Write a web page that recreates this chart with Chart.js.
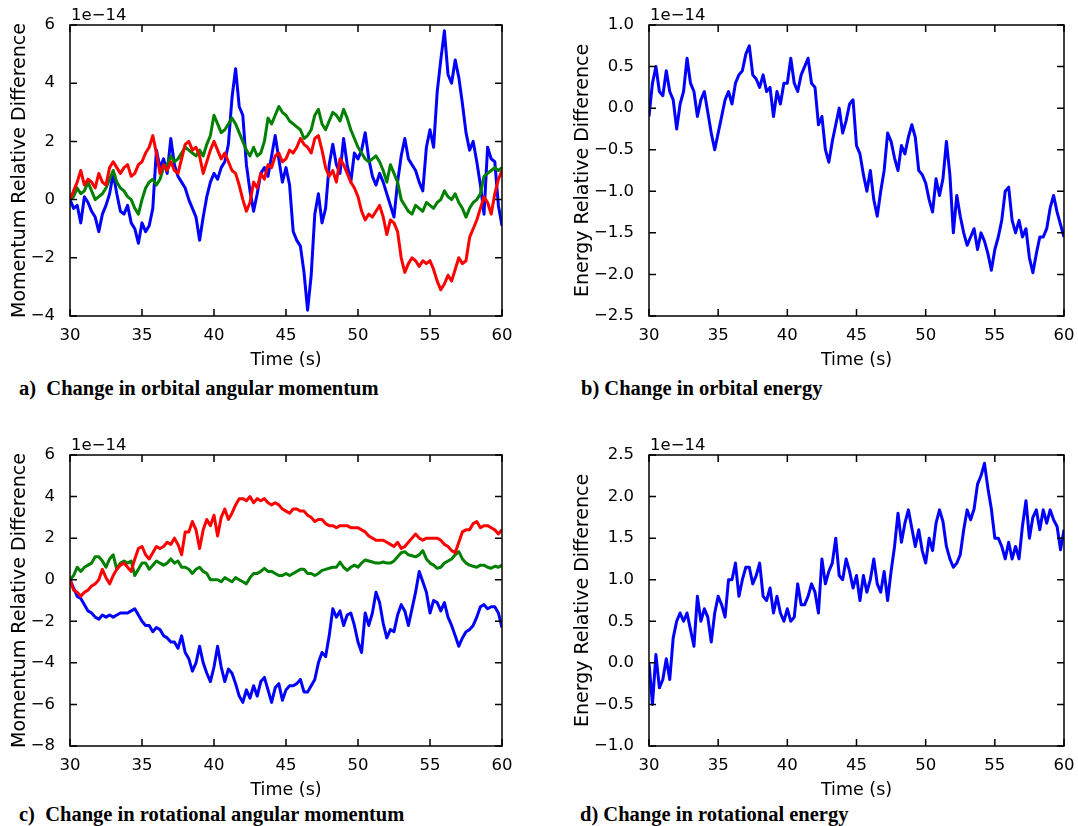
<!DOCTYPE html>
<html>
<head>
<meta charset="UTF-8">
<title>Relative differences of momentum and energy</title>
<style>
  body { margin: 0; background: #fff; width: 1078px; height: 826px; position: relative; overflow: hidden; }
  canvas { position: absolute; }
  .cap {
    position: absolute;
    font-family: "Liberation Serif", "Times New Roman", serif;
    font-weight: bold;
    font-size: 20.5px;
    line-height: 1;
    white-space: pre;
    color: #000;
  }
</style>
</head>
<body>
<canvas id="chartA" width="540" height="372" style="left:0;top:0"></canvas>
<canvas id="chartB" width="538" height="372" style="left:540px;top:0"></canvas>
<canvas id="chartC" width="540" height="372" style="left:0;top:430px"></canvas>
<canvas id="chartD" width="538" height="372" style="left:540px;top:430px"></canvas>

<div class="cap" style="left:19px;top:378px">a)  Change in orbital angular momentum</div>
<div class="cap" style="left:581px;top:378px">b) Change in orbital energy</div>
<div class="cap" style="left:19px;top:804px">c)  Change in rotational angular momentum</div>
<div class="cap" style="left:580px;top:804px">d) Change in rotational energy</div>

<script src="https://cdn.jsdelivr.net/npm/chart.js"></script>
<script>
// time samples (s)
const TIME = [
  30, 30.25, 30.5, 30.75, 31, 31.25, 31.5, 31.75, 32, 32.25, 32.5, 32.75, 33, 33.25, 33.5, 33.75, 34, 34.25, 34.5, 34.75,
  35, 35.25, 35.5, 35.75, 36, 36.25, 36.5, 36.75, 37, 37.25, 37.5, 37.75, 38, 38.25, 38.5, 38.75, 39, 39.25, 39.5, 39.75,
  40, 40.25, 40.5, 40.75, 41, 41.25, 41.5, 41.75, 42, 42.25, 42.5, 42.75, 43, 43.25, 43.5, 43.75, 44, 44.25, 44.5, 44.75,
  45, 45.25, 45.5, 45.75, 46, 46.25, 46.5, 46.75, 47, 47.25, 47.5, 47.75, 48, 48.25, 48.5, 48.75, 49, 49.25, 49.5, 49.75,
  50, 50.25, 50.5, 50.75, 51, 51.25, 51.5, 51.75, 52, 52.25, 52.5, 52.75, 53, 53.25, 53.5, 53.75, 54, 54.25, 54.5, 54.75,
  55, 55.25, 55.5, 55.75, 56, 56.25, 56.5, 56.75, 57, 57.25, 57.5, 57.75, 58, 58.25, 58.5, 58.75, 59, 59.25, 59.5, 59.75,
  60
];

// a) orbital angular momentum, relative difference (x 1e-14)
const ORB_MOM_X = [
  0.0, -0.3, -0.2, -0.8, 0.1, -0.1, -0.4, -0.6, -1.1, -0.5, -0.2, 0.2, 0.9, 0.2, -0.4, -0.5, -0.2, -0.8, -1.0, -1.5,
  -0.8, -1.1, -0.9, -0.3, 1.7, 1.1, 1.4, 0.9, 2.1, 1.2, 0.8, 0.6, 0.4, 0.0, -0.3, -0.6, -1.4, -0.6, 0.1, 0.6,
  0.9, 0.7, 1.1, 1.3, 1.9, 3.5, 4.5, 3.2, 2.9, 1.2, 0.3, -0.4, 0.2, 0.9, 1.1, 0.8, 1.5, 2.2, 1.4, 0.6,
  1.1, 0.5, -1.1, -1.4, -1.6, -2.5, -3.8, -2.6, -0.5, 0.2, -0.8, -0.3, 1.2, 1.9, 1.2, 0.9, 2.1, 1.2, 0.6, 1.6,
  1.4, 1.7, 2.3, 1.4, 0.8, 0.5, 0.9, 0.6, 0.2, -0.2, -0.6, 0.6, 1.5, 2.1, 1.4, 1.2, 1.0, 0.6, 0.3, 1.8,
  2.4, 1.8, 3.7, 4.8, 5.8, 4.3, 4.0, 4.8, 4.2, 3.3, 2.3, 1.7, 2.0, 1.3, 0.5, -0.5, 1.8, 1.4, 1.3, -0.2,
  -0.9
];
const ORB_MOM_Y = [
  0.0, 0.1, 0.4, 0.2, 0.3, 0.6, 0.3, 0.0, 0.1, 0.2, 0.4, 0.7, 1.0, 0.6, 0.4, 0.3, 0.1, 0.0, -0.3, -0.5,
  0.0, 0.4, 0.6, 0.7, 0.5, 0.7, 1.1, 1.2, 1.5, 1.3, 1.4, 1.6, 1.8, 1.7, 1.6, 1.5, 1.7, 1.5, 1.9, 2.2,
  2.9, 2.6, 2.3, 2.4, 2.6, 2.8, 2.6, 2.3, 2.0, 1.7, 1.5, 1.8, 1.5, 1.6, 2.0, 2.8, 2.6, 2.9, 3.2, 3.0,
  2.9, 2.7, 2.6, 2.5, 2.4, 2.1, 2.2, 2.4, 2.9, 3.1, 2.6, 2.4, 2.7, 3.0, 2.9, 2.7, 3.1, 2.8, 2.4, 2.1,
  1.8, 1.6, 1.4, 1.3, 1.4, 1.5, 1.3, 1.0, 0.6, 1.2, 0.9, 0.6, 0.0, -0.2, -0.4, -0.5, -0.2, -0.3, -0.4, -0.1,
  -0.2, -0.3, -0.1, 0.0, 0.3, 0.1, 0.0, 0.2, -0.1, -0.3, -0.6, -0.3, -0.1, 0.0, 0.2, 0.8, 0.9, 1.0, 1.1, 1.0,
  1.1
];
const ORB_MOM_Z = [
  0.0, 0.3, 0.6, 1.0, 0.5, 0.7, 0.6, 0.4, 0.9, 0.6, 0.5, 1.1, 1.3, 1.1, 0.9, 1.1, 1.2, 0.8, 0.9, 1.2,
  1.3, 1.6, 1.8, 2.2, 1.6, 0.9, 1.2, 1.0, 1.3, 1.0, 0.9, 1.4, 1.9, 2.0, 1.7, 1.8, 1.5, 0.9, 1.3, 1.7,
  2.0, 1.7, 1.4, 1.6, 1.3, 1.0, 0.9, 0.5, 0.0, -0.4, -0.1, 0.6, 0.4, 0.9, 0.7, 1.2, 1.1, 1.5, 1.6, 1.3,
  1.4, 1.7, 1.6, 1.8, 2.1, 1.9, 1.8, 1.6, 2.1, 2.2, 1.7, 1.1, 0.8, 1.0, 0.6, 1.4, 1.2, 0.9, 0.6, 0.4,
  0.1, -0.4, -0.7, -0.5, -0.6, -0.4, -0.2, -0.6, -1.2, -0.7, -0.8, -1.1, -2.0, -2.5, -2.2, -2.0, -2.1, -2.3, -2.1, -2.2,
  -2.1, -2.4, -2.8, -3.1, -2.9, -2.6, -2.8, -2.4, -2.0, -2.2, -2.1, -1.3, -1.0, -0.7, -0.3, 0.1, -0.1, -0.5, 0.2, 0.7,
  1.0
];

// b) orbital energy, relative difference (x 1e-14)
const ORB_ENERGY = [
  -0.1, 0.3, 0.5, 0.2, 0.15, 0.45, 0.2, 0.1, -0.25, 0.05, 0.2, 0.6, 0.3, 0.2, -0.1, 0.1, 0.2, -0.05, -0.3, -0.5,
  -0.3, -0.1, 0.1, 0.2, 0.05, 0.3, 0.4, 0.45, 0.65, 0.75, 0.4, 0.35, 0.25, 0.4, 0.2, 0.25, -0.1, 0.2, 0.05, 0.3,
  0.3, 0.6, 0.3, 0.2, 0.4, 0.5, 0.6, 0.3, 0.25, -0.2, -0.1, -0.5, -0.65, -0.4, -0.2, 0.0, -0.3, -0.15, 0.05, 0.1,
  -0.45, -0.55, -0.8, -1.0, -0.75, -1.1, -1.3, -1.0, -0.75, -0.3, -0.4, -0.6, -0.75, -0.45, -0.55, -0.35, -0.2, -0.35, -0.75, -0.8,
  -0.9, -1.1, -1.25, -0.85, -1.05, -0.85, -0.4, -0.8, -1.5, -1.05, -1.3, -1.5, -1.65, -1.55, -1.45, -1.7, -1.5, -1.6, -1.75, -1.95,
  -1.7, -1.55, -1.35, -1.0, -0.95, -1.35, -1.5, -1.35, -1.55, -1.45, -1.8, -1.98, -1.75, -1.55, -1.55, -1.45, -1.2, -1.05, -1.25, -1.4,
  -1.55
];

// c) rotational angular momentum, relative difference (x 1e-14)
const ROT_MOM_X = [
  0.0, -0.4, -0.8, -0.9, -1.2, -1.5, -1.6, -1.8, -1.9, -1.7, -1.8, -1.7, -1.8, -1.7, -1.6, -1.6, -1.6, -1.5, -1.4, -1.7,
  -2.0, -2.2, -2.2, -2.5, -2.3, -2.4, -2.7, -2.8, -3.0, -3.0, -3.3, -2.7, -3.5, -3.8, -4.4, -4.0, -3.2, -4.0, -4.5, -4.9,
  -4.2, -3.2, -4.2, -4.9, -4.3, -4.5, -5.0, -5.6, -5.9, -5.3, -5.7, -5.1, -5.6, -4.9, -4.7, -5.3, -5.9, -5.2, -5.0, -5.8,
  -5.3, -5.1, -5.1, -5.0, -4.8, -5.4, -5.4, -5.1, -4.8, -4.0, -3.5, -3.7, -2.7, -1.4, -1.8, -1.5, -2.2, -1.7, -1.6, -2.2,
  -3.0, -3.5, -1.6, -2.2, -1.6, -0.6, -1.1, -2.1, -2.8, -2.4, -2.5, -1.7, -1.2, -1.5, -2.2, -1.4, -0.6, 0.4, -0.1, -0.6,
  -1.6, -1.0, -1.1, -1.5, -1.1, -1.8, -2.2, -2.7, -3.2, -2.8, -2.5, -2.4, -2.2, -1.8, -1.3, -1.2, -1.4, -1.3, -1.3, -1.6,
  -2.3
];
const ROT_MOM_Y = [
  0.0, 0.2, 0.6, 0.4, 0.6, 0.7, 0.8, 1.1, 1.1, 0.9, 0.6, 1.0, 1.2, 0.5, 0.8, 0.9, 0.8, 0.9, 0.2, 0.5,
  0.8, 0.8, 0.5, 0.7, 0.9, 0.8, 0.7, 0.8, 1.0, 0.8, 0.9, 0.6, 0.6, 0.5, 0.3, 0.5, 0.6, 0.4, 0.3, 0.0,
  0.0, 0.0, -0.1, 0.1, 0.0, -0.1, 0.1, 0.0, -0.1, -0.2, 0.1, 0.3, 0.3, 0.4, 0.55, 0.4, 0.4, 0.3, 0.2, 0.2,
  0.3, 0.2, 0.3, 0.4, 0.5, 0.5, 0.3, 0.3, 0.2, 0.3, 0.45, 0.5, 0.55, 0.6, 0.6, 0.85, 0.6, 0.45, 0.6, 0.7,
  0.6, 0.8, 0.95, 0.9, 0.85, 0.8, 0.8, 0.85, 0.8, 0.8, 0.9, 1.1, 1.3, 1.35, 1.2, 1.15, 1.1, 1.2, 1.4, 1.0,
  0.8, 0.7, 0.55, 0.6, 0.8, 0.9, 1.0, 1.2, 1.35, 1.0, 0.8, 0.7, 0.65, 0.6, 0.7, 0.7, 0.6, 0.55, 0.65, 0.6,
  0.7
];
const ROT_MOM_Z = [
  0.0, -0.5, -0.6, -0.8, -0.6, -0.5, -0.3, -0.2, 0.0, 0.5, 0.1, -0.2, 0.2, 0.5, 0.7, 0.8, 0.6, 0.4, 1.0, 1.5,
  1.6, 1.2, 1.0, 1.3, 1.6, 1.5, 1.6, 1.8, 1.7, 2.0, 1.7, 1.2, 2.3, 2.3, 2.8, 2.4, 1.5, 2.4, 2.9, 2.6,
  3.1, 2.1, 3.0, 3.4, 2.9, 3.2, 3.6, 3.9, 3.9, 3.8, 4.0, 3.7, 3.9, 3.8, 3.9, 3.7, 3.6, 3.7, 3.6, 3.4,
  3.3, 3.2, 3.4, 3.4, 3.3, 3.3, 3.1, 3.0, 2.8, 2.9, 2.9, 2.7, 2.6, 2.6, 2.5, 2.6, 2.6, 2.6, 2.5, 2.5,
  2.5, 2.4, 2.3, 2.1, 2.0, 1.9, 1.9, 1.9, 1.8, 1.7, 1.6, 1.8, 1.5, 1.6, 1.8, 2.0, 2.2, 2.0, 1.9, 2.0,
  2.0, 2.0, 2.0, 1.9, 1.7, 1.6, 1.4, 1.3, 1.8, 2.3, 2.4, 2.4, 2.7, 2.8, 2.5, 2.6, 2.6, 2.5, 2.4, 2.2,
  2.4
];

// d) rotational energy, relative difference (x 1e-14)
const ROT_ENERGY = [
  0.0, -0.5, 0.1, -0.3, -0.2, 0.05, -0.2, 0.3, 0.5, 0.6, 0.5, 0.6, 0.4, 0.2, 0.8, 0.5, 0.65, 0.55, 0.25, 0.6,
  0.8, 0.7, 0.55, 1.0, 1.0, 1.2, 0.8, 1.0, 1.15, 1.15, 0.95, 1.05, 1.2, 0.8, 0.75, 0.9, 0.6, 0.8, 0.6, 0.5,
  0.65, 0.5, 0.55, 0.95, 0.7, 0.7, 0.8, 0.95, 0.85, 0.6, 1.25, 0.95, 1.1, 1.2, 1.5, 1.05, 1.0, 1.25, 1.1, 0.9,
  1.05, 0.75, 1.05, 0.85, 1.0, 1.25, 0.95, 0.85, 1.1, 0.75, 1.1, 1.4, 1.8, 1.45, 1.68, 1.84, 1.62, 1.4, 1.6, 1.35,
  1.2, 1.5, 1.35, 1.68, 1.84, 1.7, 1.4, 1.25, 1.15, 1.2, 1.3, 1.6, 1.84, 1.72, 1.85, 2.15, 2.25, 2.4, 2.1, 1.85,
  1.5, 1.5, 1.4, 1.25, 1.45, 1.25, 1.4, 1.25, 1.65, 1.95, 1.5, 1.75, 1.84, 1.6, 1.84, 1.68, 1.84, 1.72, 1.64, 1.36,
  1.6
];

// axis ticks
const X_TICKS = [30, 35, 40, 45, 50, 55, 60];
const TICKS_A = [-4, -2, 0, 2, 4, 6];
const TICKS_B = [-2.5, -2.0, -1.5, -1.0, -0.5, 0.0, 0.5, 1.0];
const TICKS_C = [-8, -6, -4, -2, 0, 2, 4, 6];
const TICKS_D = [-1.0, -0.5, 0.0, 0.5, 1.0, 1.5, 2.0, 2.5];

const BLUE = '#0000ff';
const GREEN = '#008000';
const RED = '#ff0000';
const FONT = '"DejaVu Sans", sans-serif';

function points(ys) {
  return ys.map((y, i) => ({ x: TIME[i], y: y }));
}

function fmt(decimals) {
  return function (v) {
    const s = Number(v).toFixed(decimals);
    return s.replace('-', '\u2212');
  };
}

// matplotlib style: frame, ticks pointing inward on all four sides, offset text
const framePlugin = {
  id: 'frame',
  afterDraw(chart) {
    const ctx = chart.ctx;
    const a = chart.chartArea;
    const sx = chart.scales.x, sy = chart.scales.y;
    ctx.save();
    ctx.strokeStyle = '#000';
    ctx.lineWidth = 1.5;
    ctx.beginPath();
    sx.ticks.forEach(t => {
      const px = sx.getPixelForValue(t.value);
      ctx.moveTo(px, a.bottom); ctx.lineTo(px, a.bottom - 7);
      ctx.moveTo(px, a.top); ctx.lineTo(px, a.top + 7);
    });
    sy.ticks.forEach(t => {
      const py = sy.getPixelForValue(t.value);
      ctx.moveTo(a.left, py); ctx.lineTo(a.left + 7, py);
      ctx.moveTo(a.right, py); ctx.lineTo(a.right - 7, py);
    });
    ctx.stroke();
    ctx.strokeRect(a.left, a.top, a.right - a.left, a.bottom - a.top);
    ctx.fillStyle = '#000';
    ctx.font = '16.5px ' + FONT;
    ctx.textBaseline = 'alphabetic';
    ctx.textAlign = 'left';
    ctx.fillText('1e\u221214', a.left + 1, a.top - 5);
    ctx.restore();
  }
};

function makePanel(id, datasets, yTicks, decimals, yTitle, yWidth, yTitlePad, rightPad) {
  new Chart(document.getElementById(id), {
    type: 'line',
    data: {
      datasets: datasets.map(d => ({
        data: points(d.values),
        borderColor: d.color,
        borderWidth: 3,
        borderJoinStyle: 'round',
        pointRadius: 0,
        tension: 0,
        fill: false
      }))
    },
    options: {
      responsive: false,
      animation: false,
      devicePixelRatio: 1,
      layout: { padding: { top: 25, right: rightPad, left: 0, bottom: 0 } },
      plugins: { legend: { display: false }, tooltip: { enabled: false } },
      scales: {
        x: {
          type: 'linear',
          min: 30, max: 60,
          grid: { display: false },
          border: { display: false },
          afterBuildTicks: s => { s.ticks = X_TICKS.map(v => ({ value: v })); },
          afterFit: s => { s.height = 56; },
          ticks: {
            color: '#000', padding: 2, maxRotation: 0,
            font: { family: FONT, size: 16.5 },
            callback: fmt(0)
          },
          title: {
            display: true, text: 'Time (s)', color: '#000',
            font: { family: FONT, size: 17.5 },
            padding: { top: 0, bottom: 1 }
          }
        },
        y: {
          min: yTicks[0], max: yTicks[yTicks.length - 1],
          grid: { display: false },
          border: { display: false },
          afterBuildTicks: s => { s.ticks = yTicks.map(v => ({ value: v })); },
          afterFit: s => { s.width = yWidth; },
          ticks: {
            color: '#000', padding: 7,
            font: { family: FONT, size: 16.5 },
            callback: fmt(decimals)
          },
          title: {
            display: true, text: yTitle, color: '#000',
            font: { family: FONT, size: 19 },
            padding: { top: yTitlePad, bottom: 0 }
          }
        }
      }
    },
    plugins: [framePlugin]
  });
}

makePanel('chartA', [
  { values: ORB_MOM_Z, color: RED },
  { values: ORB_MOM_Y, color: GREEN },
  { values: ORB_MOM_X, color: BLUE }
], TICKS_A, 0, 'Momentum Relative Difference', 70, 9, 38);

makePanel('chartB', [
  { values: ORB_ENERGY, color: BLUE }
], TICKS_B, 1, 'Energy Relative Difference', 109, 32, 14);

makePanel('chartC', [
  { values: ROT_MOM_Z, color: RED },
  { values: ROT_MOM_Y, color: GREEN },
  { values: ROT_MOM_X, color: BLUE }
], TICKS_C, 0, 'Momentum Relative Difference', 70, 9, 38);

makePanel('chartD', [
  { values: ROT_ENERGY, color: BLUE }
], TICKS_D, 1, 'Energy Relative Difference', 109, 32, 14);
</script>
</body>
</html>
